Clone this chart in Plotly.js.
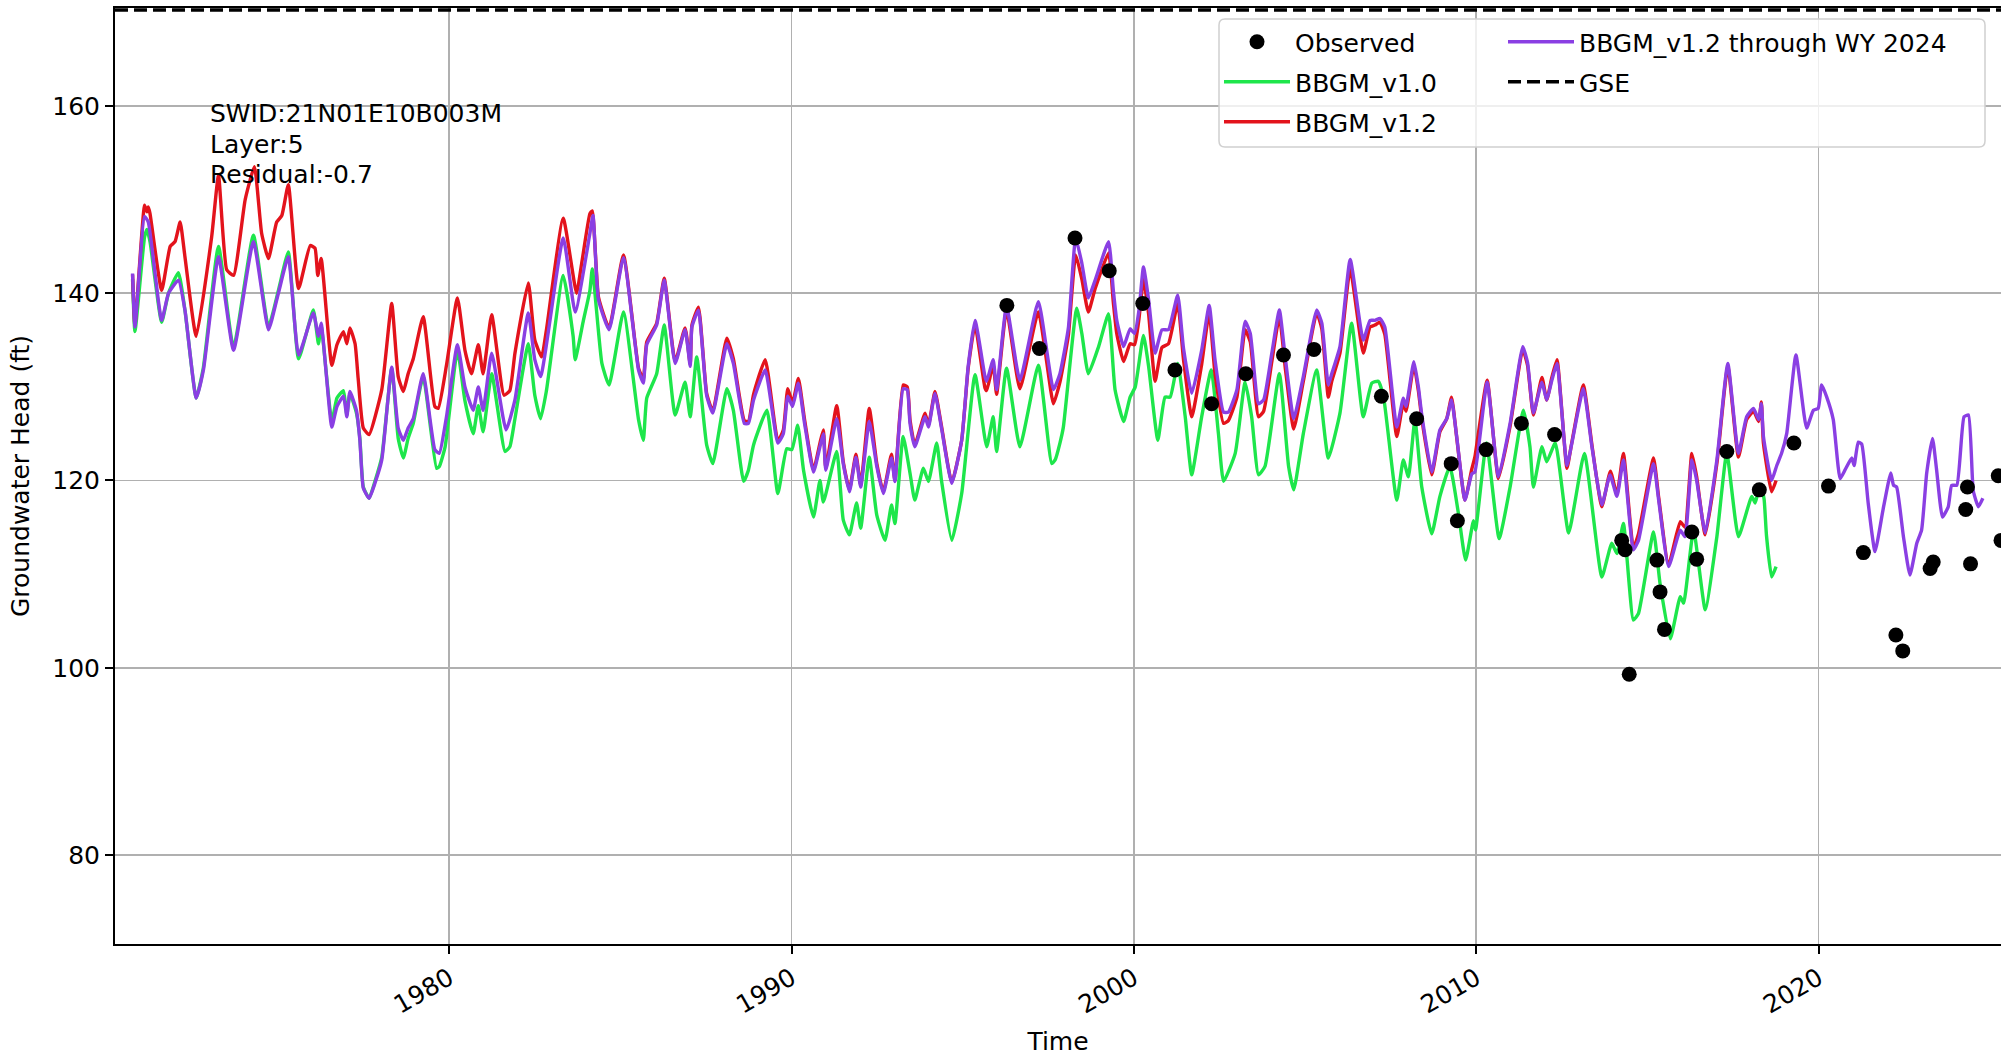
<!DOCTYPE html>
<html><head><meta charset="utf-8">
<script src="https://cdn.plot.ly/plotly-3.0.1.min.js"></script>
<style>html,body{margin:0;padding:0;background:#fff}#chart{width:2001px;height:1058px}</style>
</head><body><div id="chart"></div>
<script>
// ---- Data (decimal years, head in ft) ----
const v10Years = [1970.75,1970.82,1971.10,1971.17,1971.26,1971.60,1971.80,1972.09,1972.28,1972.61,1972.82,1973.26,1973.70,1974.28,1974.72,1975.01,1975.30,1975.60,1976.03,1976.18,1976.26,1976.57,1976.72,1976.91,1977.01,1977.10,1977.29,1977.39,1977.49,1977.66,1977.83,1978.03,1978.32,1978.51,1978.66,1978.80,1978.95,1979.24,1979.63,1979.71,1979.88,1980.24,1980.46,1980.70,1980.85,1980.99,1981.24,1981.63,1981.77,1981.92,1982.31,1982.50,1982.67,1982.84,1983.33,1983.62,1983.68,1983.92,1984.11,1984.18,1984.46,1984.67,1985.09,1985.53,1985.67,1985.77,1986.06,1986.28,1986.60,1986.89,1987.04,1987.23,1987.52,1987.70,1988.11,1988.30,1988.60,1988.74,1988.89,1989.28,1989.60,1989.86,1990.01,1990.18,1990.35,1990.64,1990.83,1990.93,1991.32,1991.51,1991.69,1991.90,1992.02,1992.27,1992.49,1992.73,1992.92,1993.02,1993.26,1993.46,1993.60,1993.85,1994.00,1994.24,1994.38,1994.68,1994.97,1995.36,1995.70,1995.89,1995.99,1996.28,1996.67,1997.21,1997.60,1997.70,1997.84,1997.94,1998.33,1998.48,1998.67,1998.97,1999.26,1999.45,1999.70,1999.89,2000.04,2000.28,2000.43,2000.70,2000.91,2001.06,2001.28,2001.50,2001.69,2001.98,2002.26,2002.47,2002.62,2002.96,2003.25,2003.44,2003.64,2003.83,2004.25,2004.52,2004.67,2004.95,2005.34,2005.68,2006.02,2006.36,2006.70,2006.95,2007.14,2007.29,2007.68,2007.87,2008.02,2008.21,2008.41,2008.70,2008.94,2009.23,2009.48,2009.69,2009.92,2009.98,2010.30,2010.67,2010.99,2011.38,2011.57,2011.67,2011.92,2012.06,2012.31,2012.70,2013.16,2013.67,2013.96,2014.11,2014.30,2014.59,2014.74,2015.18,2015.37,2015.67,2015.96,2016.06,2016.35,2016.69,2017.03,2017.32,2017.66,2018.05,2018.15,2018.25,2018.33,2018.41,2018.48,2018.63,2018.76];
const v10Head = [141.5,135.9,146.0,146.8,145.5,136.9,140.0,142.2,138.2,128.8,132.1,145.0,134.2,146.2,136.4,140.3,144.4,133.0,138.2,134.6,136.5,126.3,128.8,129.6,127.0,129.3,127.2,124.5,119.3,118.1,119.9,122.5,132.0,124.5,122.4,124.5,126.1,131.1,121.3,121.5,123.6,133.9,128.5,125.0,128.0,125.2,131.4,123.1,123.6,126.6,134.6,129.1,126.6,129.6,141.9,135.4,132.9,137.1,140.3,142.6,132.5,130.2,138.0,126.5,124.3,128.8,131.4,136.6,127.0,130.5,126.8,133.2,123.8,121.8,129.8,127.5,119.9,121.1,123.8,127.5,118.6,123.4,123.3,125.9,121.1,116.1,120.0,117.7,123.1,115.8,114.2,117.6,114.9,122.5,116.3,113.6,117.4,115.4,124.7,120.8,117.9,121.3,119.9,124.0,120.0,113.6,118.6,131.3,123.6,126.8,123.1,132.0,123.6,132.3,121.8,122.2,124.0,125.7,138.4,135.7,131.4,134.3,137.8,129.7,126.3,128.9,130.0,135.5,132.2,124.3,128.9,128.9,132.5,126.8,120.6,126.8,131.8,125.0,119.9,122.9,130.5,126.8,120.6,121.5,131.4,121.5,119.0,125.0,131.8,122.4,127.2,136.8,126.8,130.4,130.6,129.0,117.9,122.2,120.4,126.5,119.3,114.3,118.3,121.5,116.5,111.5,115.7,114.7,124.0,113.8,119.3,127.5,123.6,119.3,123.6,122.0,124.0,114.4,122.9,109.7,113.3,112.2,115.4,105.1,105.8,114.5,109.0,103.1,107.6,106.9,114.7,106.2,114.0,122.9,114.0,118.3,117.6,119.0,119.3,118.0,114.1,109.7,110.8];

const v12Years = [1970.75,1970.82,1971.10,1971.17,1971.21,1971.26,1971.60,1971.85,1971.99,1972.14,1972.28,1972.61,1973.06,1973.26,1973.50,1973.70,1974.04,1974.31,1974.52,1974.72,1974.96,1975.11,1975.30,1975.60,1975.94,1976.08,1976.16,1976.26,1976.57,1976.72,1976.91,1977.01,1977.10,1977.25,1977.34,1977.49,1977.66,1978.03,1978.32,1978.51,1978.66,1978.80,1978.95,1979.24,1979.58,1979.68,1979.92,1980.24,1980.46,1980.65,1980.85,1980.99,1981.24,1981.60,1981.77,1981.92,1982.31,1982.50,1982.70,1982.84,1983.33,1983.72,1983.87,1984.11,1984.18,1984.36,1984.67,1985.09,1985.53,1985.67,1985.77,1986.06,1986.28,1986.60,1986.89,1987.04,1987.09,1987.28,1987.52,1987.70,1988.11,1988.30,1988.62,1988.74,1988.89,1989.23,1989.60,1989.76,1989.89,1990.03,1990.20,1990.38,1990.64,1990.83,1990.93,1991.00,1991.32,1991.51,1991.69,1991.88,1992.02,1992.27,1992.49,1992.68,1992.92,1993.02,1993.26,1993.38,1993.46,1993.60,1993.90,1994.00,1994.19,1994.38,1994.68,1994.97,1995.16,1995.36,1995.65,1995.70,1995.89,1995.99,1996.28,1996.67,1997.21,1997.65,1997.84,1997.94,1998.09,1998.30,1998.48,1998.67,1998.87,1999.26,1999.40,1999.50,1999.70,1999.89,2000.02,2000.15,2000.28,2000.43,2000.62,2000.82,2001.01,2001.28,2001.45,2001.69,2001.98,2002.20,2002.37,2002.62,2002.76,2003.01,2003.25,2003.40,2003.64,2003.79,2004.03,2004.25,2004.42,2004.67,2004.95,2005.34,2005.49,2005.68,2005.78,2006.02,2006.32,2006.70,2006.90,2007.04,2007.19,2007.33,2007.68,2007.87,2007.95,2008.18,2008.31,2008.41,2008.70,2008.94,2009.14,2009.28,2009.43,2009.67,2009.87,2009.96,2010.32,2010.65,2010.99,2011.36,2011.50,2011.67,2011.92,2012.06,2012.21,2012.36,2012.65,2012.79,2013.13,2013.38,2013.67,2013.92,2014.11,2014.30,2014.59,2014.74,2015.18,2015.33,2015.62,2015.96,2016.10,2016.30,2016.44,2016.69,2017.03,2017.35,2017.66,2017.90,2018.10,2018.25,2018.33,2018.39,2018.63,2018.76];
const v12Head = [142.0,136.6,149.4,148.7,149.2,148.5,140.3,145.0,145.5,147.6,143.9,135.4,146.0,152.6,142.5,141.9,150.0,153.5,146.4,143.7,147.6,148.3,151.6,140.5,145.1,144.8,141.9,143.7,132.3,134.5,135.9,134.6,136.3,134.6,130.9,125.6,124.9,129.7,138.9,131.1,129.5,131.4,133.0,137.5,127.9,127.7,132.3,139.5,133.9,131.4,134.5,131.4,137.7,129.1,129.6,133.6,141.1,135.0,133.2,136.1,148.0,140.0,143.2,148.5,148.8,139.6,136.3,144.1,132.0,130.8,134.8,136.8,141.6,132.7,136.3,132.4,136.6,138.5,129.3,127.4,135.2,133.0,126.4,126.3,129.2,132.9,124.2,125.4,129.8,128.3,130.9,126.5,121.1,124.0,125.4,121.3,128.0,122.0,119.0,122.8,119.5,127.7,121.8,118.8,122.8,120.0,130.2,130.0,126.5,123.8,127.2,125.9,129.5,125.8,119.8,124.3,132.0,136.6,129.9,129.6,132.4,129.2,138.2,129.8,138.0,128.2,130.5,132.4,135.6,144.1,141.5,138.0,140.5,144.3,139.0,135.7,132.7,134.6,134.5,137.3,141.5,137.8,130.6,134.2,134.6,138.9,132.9,126.8,132.4,137.9,131.4,126.1,126.4,128.9,136.1,134.8,126.8,127.4,132.7,137.5,132.1,125.5,130.6,137.9,136.2,128.9,130.6,133.6,142.6,133.6,136.4,136.6,136.9,135.6,124.7,128.3,127.4,132.3,129.6,126.6,120.6,125.2,126.6,128.9,124.6,117.9,121.2,122.5,130.7,120.2,125.8,134.0,132.3,127.0,131.0,128.6,131.0,132.9,121.3,124.0,130.2,123.8,117.2,121.0,118.5,122.9,112.8,114.3,122.4,118.2,111.0,115.6,115.0,122.9,120.4,114.2,121.8,132.2,122.5,126.5,127.4,126.3,128.4,124.0,118.8,120.0];

const v12WY2024Years = [1970.75,1970.82,1971.10,1971.21,1971.60,1971.80,1972.09,1972.28,1972.61,1972.82,1973.26,1973.70,1974.28,1974.72,1975.01,1975.30,1975.60,1976.03,1976.18,1976.26,1976.57,1976.72,1976.91,1977.01,1977.10,1977.29,1977.39,1977.49,1977.66,1977.83,1978.03,1978.32,1978.51,1978.66,1978.80,1978.95,1979.24,1979.58,1979.71,1979.92,1980.24,1980.46,1980.70,1980.85,1980.99,1981.24,1981.66,1981.92,1982.31,1982.50,1982.67,1983.33,1983.68,1984.11,1984.20,1984.36,1984.67,1985.09,1985.53,1985.67,1985.77,1986.06,1986.28,1986.60,1986.89,1987.04,1987.09,1987.28,1987.52,1987.70,1988.11,1988.30,1988.62,1988.74,1988.89,1989.23,1989.60,1989.76,1989.89,1990.03,1990.20,1990.38,1990.64,1990.83,1990.93,1991.00,1991.32,1991.51,1991.69,1991.88,1992.02,1992.27,1992.49,1992.68,1992.92,1993.02,1993.26,1993.38,1993.46,1993.60,1993.90,1994.00,1994.19,1994.38,1994.68,1994.97,1995.16,1995.36,1995.65,1995.70,1995.89,1995.99,1996.28,1996.67,1997.21,1997.65,1997.84,1997.94,1998.09,1998.30,1998.48,1998.67,1998.87,1999.26,1999.40,1999.50,1999.70,1999.89,2000.02,2000.15,2000.28,2000.43,2000.62,2000.82,2001.01,2001.28,2001.45,2001.69,2001.98,2002.20,2002.37,2002.62,2002.76,2003.01,2003.25,2003.40,2003.64,2003.79,2004.03,2004.25,2004.42,2004.67,2004.95,2005.34,2005.49,2005.68,2005.78,2006.02,2006.32,2006.70,2006.90,2007.04,2007.19,2007.33,2007.68,2007.87,2007.95,2008.18,2008.31,2008.41,2008.70,2008.94,2009.14,2009.28,2009.43,2009.67,2009.87,2009.96,2010.32,2010.65,2010.99,2011.36,2011.50,2011.67,2011.92,2012.06,2012.21,2012.36,2012.65,2012.79,2013.13,2013.38,2013.67,2013.91,2014.11,2014.30,2014.59,2014.74,2015.18,2015.33,2015.62,2015.96,2016.10,2016.30,2016.44,2016.69,2017.03,2017.35,2017.66,2017.90,2018.10,2018.25,2018.33,2018.39,2018.63,2018.78,2018.92,2019.07,2019.34,2019.65,2019.85,2019.99,2020.09,2020.24,2020.43,2020.63,2020.77,2020.97,2021.04,2021.16,2021.26,2021.45,2021.65,2021.89,2022.11,2022.19,2022.28,2022.48,2022.67,2022.87,2023.01,2023.16,2023.33,2023.45,2023.62,2023.79,2023.89,2024.04,2024.25,2024.38,2024.52,2024.67,2024.80];
const v12WY2024Head = [142.1,136.4,148.2,147.6,137.1,140.0,141.4,138.2,128.8,131.8,143.9,133.9,145.5,136.1,140.0,143.9,133.4,137.9,135.4,136.8,125.7,127.9,129.0,126.8,129.5,127.5,124.3,119.2,118.1,119.7,122.2,132.1,125.6,124.3,125.6,126.6,131.4,123.3,122.9,126.8,134.5,130.0,127.5,130.0,127.5,133.6,125.4,128.6,137.9,132.9,131.1,145.9,138.0,146.4,148.3,139.3,136.1,143.8,131.8,130.4,134.5,136.6,141.4,132.5,136.1,132.2,136.4,138.2,129.1,127.2,134.6,132.5,126.1,126.1,128.6,131.8,124.0,125.0,129.0,127.9,130.4,126.1,120.9,123.6,125.0,121.1,126.6,121.8,118.8,122.5,119.3,126.3,121.5,118.6,122.4,119.9,129.8,129.7,126.1,123.6,126.8,125.7,129.3,125.6,119.7,124.3,132.2,137.1,131.1,130.6,132.9,129.7,138.6,130.7,139.1,129.7,131.4,133.2,136.4,145.9,143.2,139.5,141.4,145.5,140.3,137.1,134.3,136.2,135.7,138.2,142.8,139.3,133.6,136.1,136.1,139.8,134.1,129.3,133.9,138.7,132.9,127.3,127.3,129.7,137.0,135.7,128.2,128.6,133.6,138.2,133.2,126.6,131.1,138.2,136.8,130.2,131.4,134.3,143.6,135.0,137.1,137.1,137.3,136.4,125.7,128.8,127.9,132.7,130.0,127.0,120.9,125.4,126.6,128.6,124.7,117.9,120.7,120.9,130.5,120.4,126.1,134.3,132.6,127.2,130.5,128.6,130.7,132.5,121.6,123.9,129.8,123.6,117.4,120.6,118.3,122.2,112.6,113.6,121.8,117.9,110.8,114.7,114.0,122.2,120.0,114.4,122.2,132.5,122.9,126.8,127.7,126.5,128.2,124.7,120.0,121.6,122.9,125.0,133.4,125.6,127.5,127.7,130.2,128.9,126.5,120.2,121.1,122.4,121.6,124.1,123.9,117.6,112.4,117.0,120.8,119.5,119.3,114.0,109.9,113.3,114.7,120.8,124.5,121.1,116.1,117.2,119.5,119.5,126.8,127.0,118.9,117.2,118.1];

const obsYears = [1996.29,1997.24,1998.28,1999.28,2000.26,2001.20,2002.27,2003.27,2004.37,2005.26,2007.23,2008.26,2009.27,2009.45,2010.29,2011.32,2012.29,2014.25,2014.35,2014.47,2015.28,2015.37,2015.50,2016.30,2016.44,2017.32,2018.27,2019.28,2020.29,2021.31,2022.26,2022.46,2023.26,2023.35,2024.30,2024.35,2024.44,2025.25,2025.33];
const obsHead = [138.7,134.1,145.9,142.4,138.9,131.8,128.2,131.4,133.4,134.0,129.0,126.6,121.8,115.7,123.3,126.1,124.9,113.6,112.6,99.3,111.5,108.1,104.1,114.5,111.6,123.1,119.0,124.0,119.4,112.3,103.5,101.8,110.6,111.3,116.9,119.3,111.1,120.5,113.6];

const gseLevel = 170.25;
const xRange = [1970.237, 2025.33];
const yRange = [70.5, 170.46];
const xTickYears = [1980, 1990, 2000, 2010, 2020];
const xTickLabels = ['1980', '1990', '2000', '2010', '2020'];
const yTickValues = [80, 100, 120, 140, 160];
const infoLines = ['SWID:21N01E10B003M', 'Layer:5', 'Residual:-0.7'];

// ---- Styles ----
const FONT = 'DejaVu Sans, Verdana, sans-serif';
const FS = 25;
const lineW = 3.4;
const lineShape = {shape: 'spline', smoothing: 0.45};

const traces = [
  {x: v10Years, y: v10Head, type: 'scatter', mode: 'lines', name: 'BBGM_v1.0',
   line: Object.assign({color: '#1ee64b', width: lineW}, lineShape), legend: 'legend', legendrank: 2, legendgroup: 'g2'},
  {x: v12Years, y: v12Head, type: 'scatter', mode: 'lines', name: 'BBGM_v1.2',
   line: Object.assign({color: '#e3131c', width: lineW}, lineShape), legend: 'legend', legendrank: 3, legendgroup: 'g3'},
  {x: v12WY2024Years, y: v12WY2024Head, type: 'scatter', mode: 'lines', name: 'BBGM_v1.2 through WY 2024',
   line: Object.assign({color: '#8a3fe3', width: lineW}, lineShape), legend: 'legend2', legendrank: 1, legendgroup: 'h1'},
  {x: xRange, y: [gseLevel, gseLevel], type: 'scatter', mode: 'lines', name: 'GSE',
   line: {color: '#000000', width: 3.5, dash: '13px,6px'}, legend: 'legend2', legendrank: 2, legendgroup: 'h2'},
  {x: obsYears, y: obsHead, type: 'scatter', mode: 'markers', name: 'Observed',
   marker: {color: '#000000', size: 15}, legend: 'legend', legendrank: 1, legendgroup: 'g1', cliponaxis: true}
];

const L = 115, R = 0, T = 8, B = 114, W = 2001, H = 1058;
const pw = W - L - R, ph = H - T - B;
const px = v => (v - L) / pw;
const py = v => 1 - (v - T) / ph;

const bx0 = px(1219), bx1 = px(1985), by0 = py(147), by1 = py(19);
const rx = 6 / pw, ry = 6 / ph;
const boxPath = `M${bx0 + rx},${by1} L${bx1 - rx},${by1} Q${bx1},${by1} ${bx1},${by1 - ry} L${bx1},${by0 + ry} Q${bx1},${by0} ${bx1 - rx},${by0} L${bx0 + rx},${by0} Q${bx0},${by0} ${bx0},${by0 + ry} L${bx0},${by1 - ry} Q${bx0},${by1} ${bx0 + rx},${by1} Z`;

const axisCommon = {
  showline: true, linecolor: '#000', linewidth: 2, mirror: true,
  ticks: 'outside', ticklen: 8, tickwidth: 2, tickcolor: '#000',
  showgrid: true, gridcolor: '#b0b0b0', gridwidth: 1.6, zeroline: false,
  tickfont: {family: FONT, size: FS, color: '#000'}, automargin: false
};

const legendCommon = {
  bgcolor: 'rgba(0,0,0,0)', borderwidth: 0, xanchor: 'left', yanchor: 'top',
  font: {family: FONT, size: FS, color: '#000'}, itemwidth: 66,
  traceorder: 'grouped', tracegroupgap: 4.5, itemclick: false, itemdoubleclick: false
};

const infoAnnotations = infoLines.map((t, i) => ({
  xref: 'paper', yref: 'paper', x: 0.0495, y: py(97 + i * 30.5), xanchor: 'left', yanchor: 'top', align: 'left',
  showarrow: false, text: t, font: {family: FONT, size: FS, color: '#000'}
}));

const layout = {
  width: W, height: H,
  margin: {l: L, r: R, t: T, b: B, pad: 0},
  paper_bgcolor: '#fff', plot_bgcolor: '#fff',
  font: {family: FONT, size: FS, color: '#000'},
  xaxis: Object.assign({}, axisCommon, {
    range: xRange, tickmode: 'array', tickvals: xTickYears, ticktext: xTickLabels, tickangle: -30,
    title: {text: 'Time', font: {family: FONT, size: FS, color: '#000'}, standoff: 14}
  }),
  yaxis: Object.assign({}, axisCommon, {
    range: yRange, tickmode: 'array', tickvals: yTickValues, ticktext: yTickValues.map(String),
    title: {text: 'Groundwater Head (ft)', font: {family: FONT, size: FS, color: '#000'}, standoff: 16}
  }),
  showlegend: true,
  legend: Object.assign({}, legendCommon, {x: px(1219), y: py(19)}),
  legend2: Object.assign({}, legendCommon, {x: px(1503), y: py(19)}),
  shapes: [{type: 'path', xref: 'paper', yref: 'paper', path: boxPath,
            line: {color: '#d0d0d0', width: 1.5}, fillcolor: 'rgba(255,255,255,0.8)', layer: 'above'}],
  annotations: infoAnnotations
};

Plotly.newPlot('chart', traces, layout, {displayModeBar: false, staticPlot: true});
</script></body></html>
